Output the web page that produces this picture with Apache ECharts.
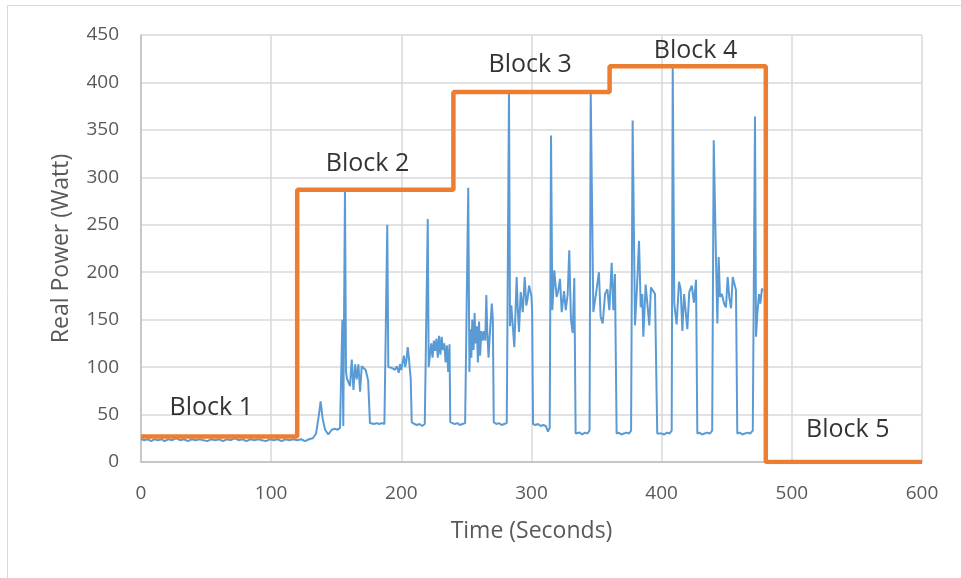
<!DOCTYPE html>
<html lang="en">
<head>
  <meta charset="UTF-8">
  <title>Real Power</title>
  <style>
    body{
      margin: 0;
    }
    .chart{
      width: 961px;
      height: 578px;
      background: white;
    }
  </style>
</head>
<body>
<div class="chart"></div>
<script src="https://cdn.jsdelivr.net/npm/echarts@6/dist/echarts.min.js"></script>
<script>
  const block1Power = [
    [0,24],[3,23],[5,24],[8,22],[10,24],[13,23],[16,24],[18,22],[21,24],[24,23],[27,25],[30,23],
    [33,24],[36,22],[39,24],[42,23],[45,24],[48,23],[51,22],[54,24],[57,23],[60,24],[63,22],[66,24],
    [69,23],[72,25],[75,23],[78,24],[81,22],[84,24],[87,23],[90,24],[93,23],[96,22],[99,24],[102,23],
    [105,24],[108,22],[111,24],[114,23],[117,24],[120,23]
  ];
  const block2Power = [
    [123,24],[126,22],[129,24],[132,25],[134.5,30],[136.5,48],[138,64],[139.5,46],[141.4,34],[143.9,29],
    [146.5,34],[149,35],[151,34],[152.9,36],[154.2,38],[154.7,150],[155.4,38],[156.7,287],[157.5,95],
    [158.2,88],[159.3,90],[160.6,80],[161.9,108],[163.2,76],[164.5,103],[165.7,87],[167,103],[168.3,74],
    [169.6,101],[170.9,103],[172.6,97],[174.5,86],[175.9,41],[177,41],[179,40],[181,41],[183,40],[185,41],
    [187,40],[188.5,41],[189.2,250],[190,100],[191,98],[193,99],[195,97],[196.5,101],[198,94],[199,103],
    [200,97],[201,105],[202,112],[203,100],[204,108],[204.9,121],[205.8,110],[206.5,98],[207.2,88],[208,42],
    [210,40],[212,39],[214,40],[216,38],[218,40],[219.5,42],[220.3,256],[221,100],[222,113],[223,125],
    [224,110],[225,128],[226,117],[227,130],[228,110],[229,133],[230,113],[231,132],[232,118],[233,125],
    [234,105],[235,123],[236,95],[237,124],[237.6,42],[239,41]
  ];
  const block3Power = [
    [241,40],[243,41],[245,39],[247,40],[249,41],[250.5,42],[251.4,289],[252.3,95],[253,140],[253.8,110],
    [254.5,150],[255.5,118],[256.3,157],[257,125],[258,143],[258.8,105],[259.7,148],[260.5,112],[261.5,138],
    [262.5,128],[263.5,138],[264.5,128],[265.3,176],[266,138],[267,110],[268,135],[269.5,167],[270.3,150],
    [271,42],[273,40],[275,41],[277,39],[279,40],[281,41],[282.2,42],[282.7,390],[283.5,143],[284.5,165],
    [285.5,164],[286.8,121],[288.6,195],[289.5,160],[290.4,137],[291.7,179],[293.3,158],[294.8,195],[296,165],
    [297,172],[298.1,186],[299.9,175],[300.5,160],[301.2,40],[303,39],[305,40],[307,38],[309,39],[311,38],
    [312.7,32],[314,36],[315,344],[316,160],[317.5,202],[319.3,174],[320.5,180],[321.9,193],[323.2,158],
    [325,180],[326.3,160],[327.8,177],[329,223],[330.3,150],[331.6,136],[332.9,194],[333.9,30],[335,30],
    [337,31],[339,29],[341,31],[343,30],[344.6,33],[345.5,390],[347.5,158],[349.5,177],[351.8,200],
    [353.1,153],[354.7,146],[356.5,177],[358.3,182],[359.8,160]
  ];
  const block4Power = [
    [361.6,210],[362.9,160],[364.1,198],[365.4,30],[367,31],[369,29],[371,30],[373,31],[375,30],[376.5,33],
    [377.7,360],[379.5,144],[380.8,177],[382.6,233],[383.9,163],[385.1,177],[385.9,132],[387.7,187],
    [389,189],[390.5,144],[391.8,184],[393.6,180],[394.9,177],[396.6,30],[398,31],[400,30],[402,29],
    [404,31],[406,30],[407.7,33],[408.5,416],[409.7,167],[411.5,145],[413.3,190],[414.6,182],[415.9,138],
    [417.2,177],[418.4,179],[419.7,140],[421.2,179],[423.1,186],[424.8,168],[426.4,192],[427.4,30],
    [429,31],[431,29],[433,30],[435,31],[437,30],[438.8,33],[440,339],[441.7,216],[442.8,146],[443.8,216],
    [444.8,174],[446.3,177],[447.9,167],[449.4,163],[450.7,195],[451.9,174],[453.3,162],[454.6,195],
    [456.1,197],[457.1,181],[458.1,30],[460,31],[462,29],[464,30],[466,31],[468,30],[470,33],[471.7,364],
    [472.5,132],[473.5,156],[474.8,177],[475.8,167],[477.1,183],[477.6,180]
  ];

  // block load levels, one per block, changing every 120 s
  const stepTimes = [0, 120, 240, 360, 480, 600];
  const stepLevels = [27, 287, 390, 417, 0, 0];

  const blockNames = ['Block 1', 'Block 2', 'Block 3', 'Block 4', 'Block 5'];
  const labelSpots = [[54, 57], [174, 314], [299, 419], [426, 433], [543, 34]];

  const power = [].concat(block1Power, block2Power, block3Power, block4Power);
  const steps = stepTimes.map((t, i) => [t, stepLevels[i]]);

  const tickFont = {color: '#595959', fontFamily: 'Open Sans', fontSize: 19};

  const container = document.querySelector('.chart');
  const instance = echarts.init(container);
  const option = {
    animation: false,
    grid: {left: 141, right: 39, top: 35, bottom: 116},
    graphic: [{
      type: 'rect',
      shape: {x: 7.5, y: 5.5, width: 960, height: 580},
      style: {fill: 'none', stroke: '#d9d9d9', lineWidth: 1}
    }],
    xAxis: {
      type: 'value',
      min: 0,
      max: 600,
      interval: 100,
      name: 'Time (Seconds)',
      nameLocation: 'middle',
      nameGap: 58,
      nameTextStyle: {color: '#595959', fontFamily: 'Open Sans', fontSize: 23},
      axisLine: {show: true, lineStyle: {color: '#bfbfbf', width: 1.5}},
      axisTick: {show: false},
      axisLabel: Object.assign({margin: 22}, tickFont),
      splitLine: {show: true, lineStyle: {color: '#d9d9d9', width: 1.5}}
    },
    yAxis: {
      type: 'value',
      min: 0,
      max: 450,
      interval: 50,
      name: 'Real Power (Watt)',
      nameLocation: 'middle',
      nameGap: 68,
      nameTextStyle: {color: '#595959', fontFamily: 'Open Sans', fontSize: 23},
      axisLine: {show: true, lineStyle: {color: '#bfbfbf', width: 1.5}},
      axisTick: {show: false},
      axisLabel: Object.assign({margin: 22}, tickFont),
      splitLine: {show: true, lineStyle: {color: '#d9d9d9', width: 1.5}}
    },
    series: [
      {
        type: 'line',
        data: power,
        showSymbol: false,
        lineStyle: {color: '#5b9bd5', width: 2},
        z: 2
      },
      {
        type: 'line',
        step: 'end',
        data: steps,
        showSymbol: false,
        lineStyle: {color: '#ed7d31', width: 4.5},
        z: 3
      },
      {
        type: 'scatter',
        symbolSize: 0,
        data: blockNames.map((n, i) => ({name: n, value: labelSpots[i]})),
        label: {
          show: true,
          position: 'inside',
          formatter: '{b}',
          color: '#000',
          fontFamily: 'Open Sans',
          fontSize: 25
        },
        z: 4
      }
    ]
  };
  instance.setOption(option);
</script>
</body>
</html>
